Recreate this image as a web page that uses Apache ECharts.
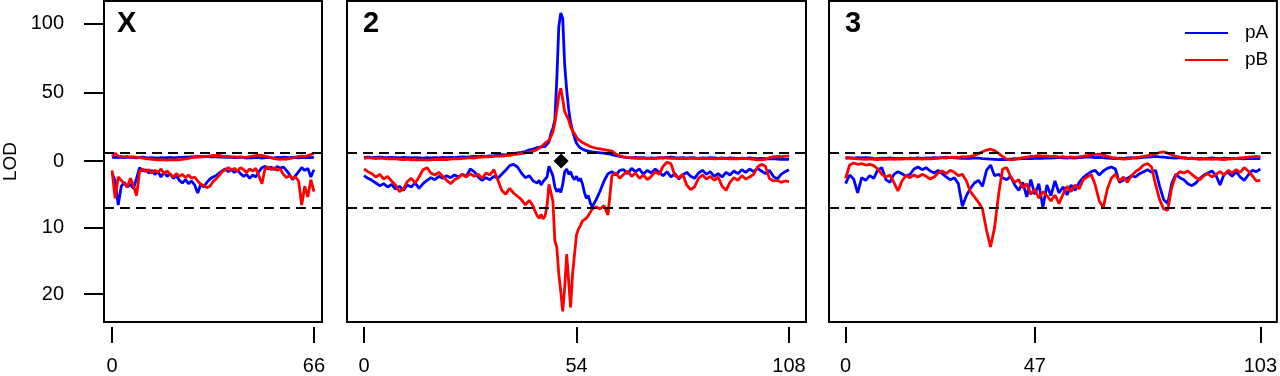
<!DOCTYPE html>
<html><head><meta charset="utf-8">
<script src="https://cdn.jsdelivr.net/npm/echarts@6/dist/echarts.min.js"></script>
<style>html,body{margin:0;padding:0;background:#fff}#c{width:1280px;height:376px}</style>
</head><body><div id="c"></div>
<script>
// ---------- data ----------
const panelNames = ['X', '2', '3'];
const chromLen = [66, 108, 103];
const xTicks = [[0, 66], [0, 54, 108], [0, 47, 103]];
const yUpperTicks = [100, 50, 0];
const yLowerTicks = [10, 20];
const upperThreshold = 6.3;
const lowerThreshold = 7.0;
const qtlMarker = [50.1, 0];   // chromosome 2
const seriesNames = ['pA', 'pB'];

const posX = [0,1,2,3,4,5,6,7,8,9,10,11,12,13,14,15,16,17,18,19,20,21,22,23,24,25,26,27,28,29,30,31,32,33,34,35,36,37,38,39,40,41,42,43,44,45,46,47,48,49,50,51,52,53,54,55,56,57,58,59,60,61,62,63,64,65,66];
const pA_upX = [2.6,2.9,2.5,2.8,2.4,2.6,2.7,2.5,2.3,2.6, 2.8,2.4,2.2,2.5,2.3,2.1,2.4,2.2,2.5,2.6, 2.3,2.5,2.7,2.6,2.9,2.8,3.1,3.0,3.3,3.1, 3.2,3.4,3.1,3.3,3.0,2.8,2.9,2.6,2.8,2.7, 2.5,2.6,2.8,2.4,2.2,2.5,2.3,2.6,2.4,2.2, 2.5,2.7,2.4,2.3,2.6,2.5,2.8,2.6,2.4,2.7, 2.5,2.3,2.6,2.4,2.7,2.5,2.6];
const pB_upX = [3.2,5.6,3.6,3.4,3.0,3.3,2.9,3.1,2.7,2.4, 2.1,1.8,1.6,1.2,1.0,0.8,1.1,0.9,0.7,1.0, 0.8,1.1,0.9,1.3,1.6,2.0,2.4,2.7,3.0,3.3, 3.1,3.4,3.8,4.1,3.9,4.2,3.6,3.2,3.4,3.0, 3.1,2.8,3.0,2.7,2.9,3.2,3.6,4.0,4.3,4.1, 3.6,3.0,2.4,1.8,1.4,1.2,1.5,1.3,1.8,2.3, 2.9,3.3,3.6,3.4,3.9,4.8,5.4];
const pA_dnX = [1.8,3.0,6.6,3.8,3.2,3.9,3.5,4.1,2.6,1.0, 1.5,1.3,1.8,1.4,2.0,1.6,2.4,1.7,2.3,1.9, 2.6,2.2,2.9,3.3,2.8,3.4,3.0,3.6,4.8,3.5, 3.9,3.2,2.7,2.4,2.2,1.8,1.5,1.2,1.6,1.3, 1.7,1.4,1.9,2.3,2.0,2.6,2.1,2.4,1.6,1.0, 0.8,1.2,0.9,1.3,0.8,1.1,0.9,1.4,2.0,2.8, 2.2,1.6,1.0,1.4,1.1,2.4,1.3];
const pB_dnX = [1.4,5.6,2.4,2.9,3.4,3.9,2.6,3.7,5.2,1.6, 1.2,1.6,1.3,1.8,1.4,1.7,1.2,1.9,1.5,2.0, 2.4,1.9,2.3,2.0,2.5,2.1,2.6,2.4,3.0,3.5, 3.7,4.0,3.8,3.1,2.7,2.2,1.6,1.3,1.0,1.4, 1.1,1.5,1.0,1.3,1.7,1.2,1.5,1.1,2.2,3.4, 1.2,0.9,1.3,1.0,1.4,1.2,2.0,2.5,2.2,2.6, 2.4,3.0,6.6,3.8,5.4,2.8,4.6];

const pos2 = [0,1,2,3,4,5,6,7,8,9,10,11,12,13,14,15,16,17,18,19,20,21,22,23,24,25,26,27,28,29,30,31,32,33,34,35,36,37,38,39,40,41,42,43,
  43.5,44,44.5,45,45.5,46,46.5,47,47.5,48,48.5,49,49.5,50,50.5,51,51.5,52,52.5,53,53.5,54,54.5,55,55.5,56,56.5,57,57.5,58,
  59,60,61,62,63,64,65,66,67,68,69,70,71,72,73,74,75,76,77,78,79,80,81,82,83,84,85,86,87,88,89,90,91,92,93,94,95,96,97,98,99,100,101,102,103,104,105,106,107,108];
const pA_up2 = [2.6,2.8,2.5,2.7,2.9,2.6,2.4,2.7,2.5,2.3, 2.6,2.4,2.2,2.5,2.3,2.1,2.4,2.2,2.5,2.3, 2.6,2.4,2.7,2.5,2.8,3.0,2.8,3.1,3.3,3.2, 3.5,3.4,3.8,4.0,4.3,4.6,4.4,5.0,5.4,5.9, 6.3,6.9,8.2,8.7,
  9.3,9.8,10.1,10.4,11.0,10.6,11.2,14,20,24, 30,60,98,108,104,70,52,38,28,22, 17,13,11,9.5,8.6,8.0,7.6,7.2,6.9,6.6,
  6.3,6.0,5.7,5.3,4.7,3.9,3.3,2.8,2.5,2.3, 2.6,2.2,2.4,2.0,2.3,2.1,2.5,2.2,2.6,2.9, 2.4,2.2,2.5,2.1,2.4,2.2,2.0,2.3,2.1,2.4, 2.2,1.9,2.2,2.0,2.3,2.1,1.8,2.1,1.9,2.2, 2.0,1.7,2.0,1.8,1.5,1.7,1.4,1.2,1.4,1.2];
const pB_up2 = [2.0,2.4,2.1,1.8,2.2,1.9,1.6,1.8,1.5,1.3, 1.1,1.3,0.9,1.1,0.8,1.0,0.7,0.9,1.2,1.0, 1.3,1.1,1.4,1.7,1.5,1.9,2.1,2.4,2.2,2.6, 2.9,3.2,3.0,3.4,3.7,3.5,3.9,4.2,4.6,5.0, 5.4,5.9,6.5,7.2,
  7.8,8.5,9.6,10.2,11.5,13.0,13.5,15,18,21, 28,37,48,53,45,36,37,30,25,22, 20,17.5,15.5,14.5,13.5,12.8,12,11.2,10.6,10.1,
  9.3,8.8,8.3,7.8,7.2,5.2,3.8,3.0,2.6,2.3, 2.0,2.2,1.9,2.1,1.8,2.0,2.2,2.5,2.2,1.9, 2.1,1.8,2.0,1.7,1.9,2.1,1.8,2.0,1.7,1.9, 1.6,1.8,2.0,1.7,1.5,1.8,1.6,1.9,1.7,1.5, 1.2,0.9,0.8,1.2,2.4,3.0,3.3,3.1,3.5,3.6];
const pA_dn2 = [2.2,2.6,2.9,3.3,3.7,3.4,3.9,3.5,4.2,3.8, 4.4,3.6,3.9,3.3,4.1,3.4,2.9,2.5,2.8,2.3, 2.6,2.2,2.5,2.1,2.4,2.0,2.3,1.2,1.6,2.4, 2.9,2.5,2.8,2.3,2.6,2.0,1.4,0.7,0.5,0.9, 1.8,2.5,2.2,3.0,
  2.7,3.3,2.9,3.6,3.1,3.4,2.4,0.8,1.0,2.2, 3.9,4.6,4.2,4.7,3.5,1.6,1.2,2.0,1.6,2.4, 2.8,2.3,3.0,2.6,3.4,4.7,5.6,5.2,6.3,6.9,
  5.8,4.5,3.0,1.9,1.6,2.1,1.4,1.3,1.9,1.1, 1.6,1.2,2.0,1.4,1.8,1.2,1.7,2.2,1.6,2.4, 1.9,2.7,2.1,1.7,2.3,2.6,1.8,1.4,2.0,1.6, 2.3,1.9,2.4,1.7,2.1,1.5,1.9,1.3,1.7,1.2, 1.6,1.1,1.5,1.9,1.4,2.3,2.7,2.0,1.6,1.3];
const pB_dn2 = [1.2,1.6,1.9,2.4,2.0,2.7,2.3,3.0,3.6,4.6, 4.2,3.1,2.6,3.3,2.4,1.3,1.0,1.8,2.1,1.7, 2.3,2.9,3.4,2.8,2.5,2.0,2.4,1.9,2.3,2.0, 2.6,1.8,2.1,1.3,2.8,4.4,5.0,4.1,4.8,5.3, 5.8,6.6,5.9,6.8,
  7.6,8.2,8.6,8.0,8.7,8.3,6.8,3.5,3.8,6.0, 12,13,17,19.6,22.6,19,14,18,22,17, 14,11.1,10.2,9.7,9.0,8.7,8.6,8.2,7.7,7.2,
  6.9,7.2,6.7,8.1,2.2,1.8,2.6,2.0,1.5,2.3, 1.8,2.6,2.1,2.8,2.3,1.6,2.0,0.8,0.2,0.4, 2.2,2.5,2.0,3.6,4.3,3.9,2.6,2.1,2.7,2.3, 2.9,2.4,3.8,4.4,3.2,2.5,2.9,2.2,2.7,2.4, 2.0,0.9,0.5,0.8,2.6,3.0,2.9,3.2,3.0,3.1];

const pos3 = [0,1,2,3,4,5,6,7,8,9,10,11,12,13,14,15,16,17,18,19,20,21,22,23,24,25,26,27,28,29,30,31,32,33,34,35,36,37,38,39,40,41,42,43,44,45,46,47,48,49,50,51,52,53,54,55,56,57,58,59,60,61,62,63,64,65,66,67,68,69,70,71,72,73,74,75,76,77,78,79,80,81,82,83,84,85,86,87,88,89,90,91,92,93,94,95,96,97,98,99,100,101,102,103];
const pA_up3 = [2.0,2.3,2.1,2.4,2.2,2.5,2.3,2.0,1.8,2.1, 1.9,2.2,2.0,1.7,2.0,1.8,2.1,1.9,2.2,2.0, 2.3,2.1,2.4,2.2,2.5,2.8,2.6,2.3,2.1,1.9, 2.2,2.0,2.3,2.1,1.8,1.6,1.4,1.2,1.0,1.3, 1.1,1.4,1.7,1.5,1.8,2.0,1.7,1.9,2.2,2.0, 2.3,2.1,2.4,2.6,2.3,2.1,2.4,2.2,2.5,2.7, 3.0,2.8,2.5,2.7,2.4,2.2,2.0,1.8,2.1,1.9, 2.2,2.4,2.1,2.3,2.6,2.9,3.1,3.4,3.0,2.8, 2.5,2.3,2.1,2.4,2.2,1.9,2.1,1.8,2.0,1.7, 1.9,2.2,2.0,1.8,2.1,1.9,1.7,2.0,1.8,1.6, 1.9,1.7,2.0,1.8];
const pB_up3 = [2.6,2.3,2.0,1.6,1.4,1.2,1.5,1.3,1.1,1.4, 1.2,1.5,1.3,1.6,1.4,1.7,1.5,1.8,1.6,1.4, 1.7,1.5,1.8,2.1,2.4,2.2,2.6,2.9,2.7,3.1, 3.0,3.4,4.2,5.4,6.8,8.0,8.6,7.6,5.6,3.2, 1.4,0.8,1.1,1.8,2.4,2.9,3.3,3.6,4.0,3.5, 3.8,3.2,3.6,2.9,3.2,2.7,3.0,2.6,3.1,3.5, 4.0,4.4,4.9,5.1,4.6,3.4,2.6,2.2,1.7,1.4, 1.6,2.0,2.5,2.9,3.4,4.0,4.7,5.3,6.2,6.7, 5.8,4.6,3.5,2.8,2.4,2.0,1.7,1.5,1.3,1.6, 1.4,1.2,1.5,1.3,1.1,1.4,1.6,1.9,2.2,2.5, 2.8,3.1,3.4,3.0];
const pA_dn3 = [3.4,2.1,2.7,4.8,2.5,2.9,2.2,2.6,1.3,1.0, 2.8,3.2,2.0,1.6,1.9,2.3,2.0,1.2,0.9,1.3, 1.0,1.5,1.8,1.4,1.9,2.4,2.8,2.5,3.4,6.8, 5.2,4.1,3.3,2.9,3.8,1.4,0.6,2.2,2.0,2.5, 2.8,2.3,3.6,4.4,3.2,5.4,2.8,5.0,3.4,7.0, 3.6,5.2,3.0,4.8,3.9,5.1,3.6,4.4,3.2,2.5, 2.0,1.6,1.4,2.1,1.5,1.1,0.9,1.2,3.2,2.9, 2.6,2.2,2.4,1.9,1.6,1.3,1.7,1.4,3.8,5.8, 6.4,3.4,2.0,2.5,2.8,3.4,3.7,3.3,2.6,2.1, 1.8,1.5,2.2,3.6,2.0,1.7,2.3,1.6,2.4,2.9, 2.1,1.4,1.6,1.2];
const pB_dn3 = [2.6,0.6,0.3,0.5,0.4,0.6,0.5,0.7,1.2,2.0, 2.4,2.1,3.2,4.5,3.0,2.2,2.5,2.1,2.4,2.0, 2.3,2.7,2.4,1.8,1.5,1.9,1.4,1.7,2.2,2.0, 3.0,4.6,5.4,6.2,7.2,10.4,12.9,10.0,5.0,1.2, 1.0,2.4,3.2,2.8,4.0,3.4,5.0,4.2,5.6,4.6, 5.2,6.0,5.1,6.4,5.0,3.8,4.6,3.6,4.2,2.8, 2.4,2.0,3.6,6.0,7.0,4.2,2.6,2.0,3.0,2.4, 3.2,2.2,1.6,1.2,0.6,0.4,0.9,3.6,5.8,7.2, 7.4,4.0,2.2,1.6,1.8,1.5,2.0,2.5,2.8,2.2, 1.9,2.4,2.0,1.6,2.1,1.4,1.8,1.3,1.7,1.0, 1.5,2.2,3.0,2.9];

// ---------- layout / build ----------
const R = 4.855;            // lower half is drawn 4.855x more stretched than upper half
const Y_MIN = -117.4, Y_MAX = 116.7;
const FONT = 'Liberation Sans, Arial, Helvetica, sans-serif';
const BLUE = '#0000ff', RED = '#ff0000';
const grids = [
  {left: 102, top: 1, width: 220, height: 323},
  {left: 347, top: 1, width: 459, height: 323},
  {left: 829, top: 1, width: 449, height: 323}
];
const panels = [
  {pos: posX, aU: pA_upX, bU: pB_upX, aD: pA_dnX, bD: pB_dnX},
  {pos: pos2, aU: pA_up2, bU: pB_up2, aD: pA_dn2, bD: pB_dn2},
  {pos: pos3, aU: pA_up3, bU: pB_up3, aD: pA_dn3, bD: pB_dn3}
];
const up = (pos, v) => pos.map((x, i) => [x, v[i]]);
const dn = (pos, v) => pos.map((x, i) => [x, -v[i] * R]);
const yTickPos = yUpperTicks.concat(yLowerTicks.map(t => -t * R));

const xAxis = [], yAxis = [], series = [], graphic = [];
panels.forEach((p, i) => {
  const ext = chromLen[i] * 0.04;
  xAxis.push({
    gridIndex: i, type: 'value', min: -ext, max: chromLen[i] + ext, position: 'bottom',
    offset: 5, axisLine: {show: false, onZero: false}, splitLine: {show: false},
    axisTick: {show: true, length: 16, customValues: xTicks[i], lineStyle: {color: '#000', width: 2}},
    axisLabel: {customValues: xTicks[i], margin: 29, fontSize: 20, color: '#000', fontFamily: FONT}
  });
  const ya = {
    gridIndex: i, type: 'value', min: Y_MIN, max: Y_MAX, position: 'left',
    axisLine: {show: false, onZero: false}, splitLine: {show: false},
    axisTick: {show: i === 0, length: 20, customValues: yTickPos, lineStyle: {color: '#000', width: 2}},
    axisLabel: {show: i === 0, customValues: yTickPos, margin: 40, fontSize: 20, color: '#000', fontFamily: FONT,
      formatter: v => v >= 0 ? String(Math.round(v)) : String(Math.round(-v / R))}
  };
  if (i === 0) {
    Object.assign(ya, {name: 'LOD', nameLocation: 'middle', nameRotate: 90, nameGap: 84,
      nameTextStyle: {fontSize: 19, color: '#000', fontFamily: FONT}});
  }
  yAxis.push(ya);
  const line = (name, color, data, extra) => Object.assign({
    type: 'line', name, xAxisIndex: i, yAxisIndex: i, data, showSymbol: false, symbol: 'none',
    lineStyle: {color, width: 2.8}, itemStyle: {color}, animation: false, z: 2
  }, extra || {});
  series.push(line(seriesNames[0], BLUE, up(p.pos, p.aU), {
    markLine: {silent: true, symbol: 'none', label: {show: false},
      lineStyle: {color: '#000', type: [10, 6], width: 2.2},
      data: [{yAxis: upperThreshold}, {yAxis: -lowerThreshold * R}]}
  }));
  series.push(line(seriesNames[0], BLUE, dn(p.pos, p.aD)));
  series.push(line(seriesNames[1], RED, up(p.pos, p.bU)));
  series.push(line(seriesNames[1], RED, dn(p.pos, p.bD)));
  graphic.push({type: 'text', left: grids[i].left + (i === 0 ? 15 : 16), top: 9,
    style: {text: panelNames[i], font: 'bold 29px ' + FONT, fill: '#000'}});
});
series.push({type: 'scatter', xAxisIndex: 1, yAxisIndex: 1, data: [qtlMarker],
  symbol: 'diamond', symbolSize: 15, itemStyle: {color: '#000', opacity: 1}, z: 5, animation: false});

const chart = echarts.init(document.getElementById('c'), null, {renderer: 'canvas'});
chart.setOption({
  animation: false,
  backgroundColor: '#fff',
  grid: grids.map(g => Object.assign({show: true, borderColor: '#000', borderWidth: 2, backgroundColor: 'transparent'}, g)),
  xAxis, yAxis, series, graphic,
  legend: {data: seriesNames, orient: 'vertical', left: 1180, top: 18, itemWidth: 43, itemHeight: 2,
    itemGap: 7, icon: 'rect', selectedMode: false,
    textStyle: {fontSize: 19, lineHeight: 20, color: '#000', fontFamily: FONT, padding: [0, 0, 0, 12]}}
});
</script></body></html>
